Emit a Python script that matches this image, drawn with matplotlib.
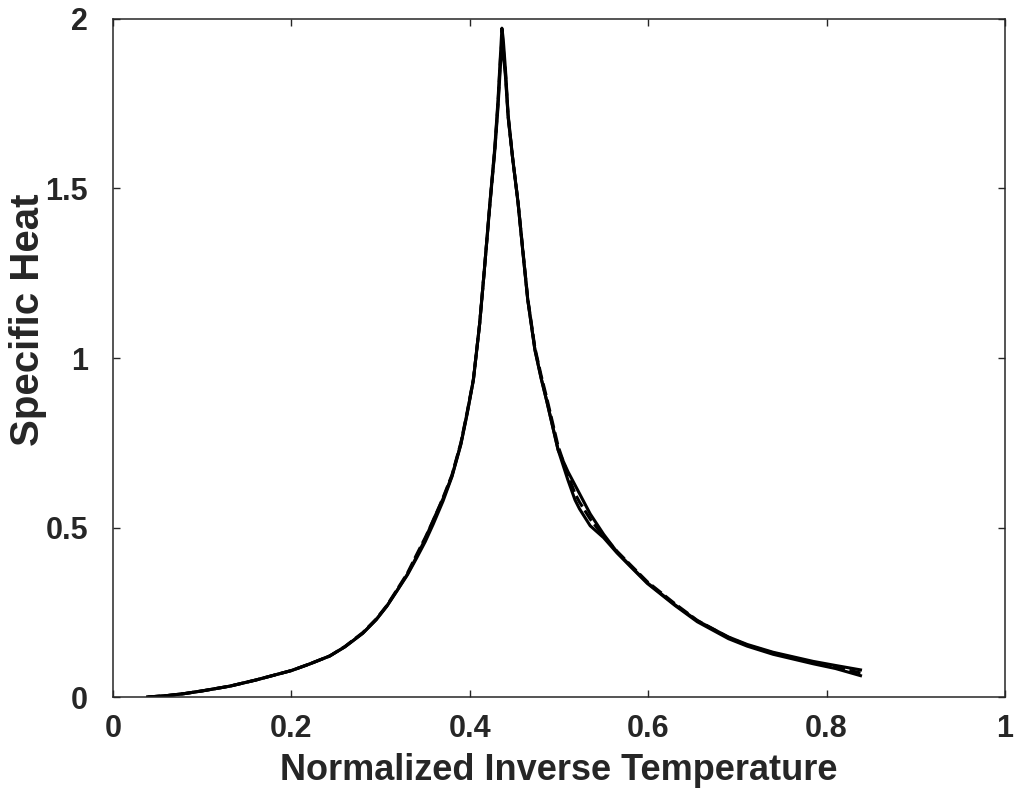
import matplotlib
matplotlib.use("Agg")
import matplotlib.pyplot as plt

# Inverse temperature values, shared by all curves
x_vals = [0.039, 0.060, 0.080, 0.100, 0.131, 0.160, 0.200, 0.220, 0.243, 0.260,
          0.280, 0.295, 0.307, 0.318, 0.330, 0.340, 0.350, 0.359, 0.370, 0.380,
          0.390, 0.397, 0.404, 0.411, 0.416, 0.4226, 0.428, 0.4316, 0.4345, 0.436,
          0.4375, 0.440, 0.443, 0.448, 0.454, 0.460, 0.465, 0.473, 0.480, 0.486,
          0.499, 0.510, 0.518, 0.523, 0.535, 0.550, 0.565, 0.580, 0.599, 0.630,
          0.655, 0.690, 0.711, 0.740, 0.785, 0.810, 0.838]

# Specific heat, solid curve 1
y_a = [0.000, 0.004, 0.010, 0.018, 0.032, 0.050, 0.078, 0.097, 0.121, 0.148,
       0.188, 0.228, 0.268, 0.312, 0.360, 0.408, 0.458, 0.510, 0.578, 0.650,
       0.745, 0.835, 0.935, 1.100, 1.250, 1.460, 1.620, 1.760, 1.900, 1.973,
       1.940, 1.850, 1.717, 1.590, 1.460, 1.300, 1.171, 1.024, 0.940, 0.876,
       0.729, 0.640, 0.581, 0.555, 0.505, 0.470, 0.425, 0.385, 0.335, 0.270,
       0.222, 0.172, 0.150, 0.126, 0.098, 0.084, 0.063]

# Specific heat, solid curve 2 (lower peak, bump near 0.52-0.54)
y_b = [0.000, 0.004, 0.010, 0.018, 0.032, 0.050, 0.078, 0.097, 0.121, 0.148,
       0.188, 0.228, 0.268, 0.312, 0.362, 0.412, 0.466, 0.522, 0.585, 0.652,
       0.747, 0.837, 0.935, 1.100, 1.250, 1.455, 1.610, 1.740, 1.870, 1.917,
       1.900, 1.830, 1.710, 1.590, 1.460, 1.300, 1.171, 1.024, 0.940, 0.876,
       0.729, 0.665, 0.625, 0.600, 0.540, 0.480, 0.428, 0.387, 0.337, 0.272,
       0.225, 0.177, 0.155, 0.132, 0.105, 0.093, 0.080]

# Specific heat, dashed curve
y_c = [0.000, 0.004, 0.010, 0.018, 0.032, 0.050, 0.078, 0.097, 0.121, 0.149,
       0.190, 0.230, 0.270, 0.315, 0.365, 0.418, 0.470, 0.520, 0.588, 0.655,
       0.750, 0.840, 0.937, 1.100, 1.250, 1.455, 1.615, 1.750, 1.890, 1.935,
       1.915, 1.840, 1.712, 1.590, 1.462, 1.305, 1.175, 1.030, 0.948, 0.885,
       0.740, 0.655, 0.600, 0.575, 0.525, 0.474, 0.430, 0.390, 0.340, 0.275,
       0.226, 0.176, 0.153, 0.130, 0.102, 0.088, 0.071]

x_ticks = [0, 0.2, 0.4, 0.6, 0.8, 1]
x_ticklabels = ["0", "0.2", "0.4", "0.6", "0.8", "1"]
y_ticks = [0, 0.5, 1, 1.5, 2]
y_ticklabels = ["0", "0.5", "1", "1.5", "2"]

plt.rcParams['font.family'] = ['Liberation Sans', 'DejaVu Sans']

fig = plt.figure(figsize=(10.23, 8.05), dpi=100)
ax = fig.add_axes([113/1023, (805-697)/805, (1005-113)/1023, (697-19)/805])

ax.plot(x_vals, y_a, color='black', lw=2.2, ls='-', solid_joinstyle='round')
ax.plot(x_vals, y_b, color='black', lw=2.2, ls='-', solid_joinstyle='round')
ax.plot(x_vals, y_c, color='black', lw=2.2, ls=(0, (4, 1.5)))

ax.set_xlim(0, 1)
ax.set_ylim(0, 2)
ax.set_xticks(x_ticks)
ax.set_xticklabels(x_ticklabels)
ax.set_yticks(y_ticks)
ax.set_yticklabels(y_ticklabels)

for sp in ax.spines.values():
    sp.set_color('#262626')
    sp.set_linewidth(1.1)

ax.tick_params(direction='in', length=5, width=1.0, color='#262626',
               top=True, right=True, labelsize=22, labelcolor='#262626')
ax.tick_params(axis='x', pad=12)
ax.tick_params(axis='y', pad=18)
for lbl in ax.get_xticklabels() + ax.get_yticklabels():
    lbl.set_fontweight('bold')

ax.set_xlabel('Normalized Inverse Temperature', fontsize=26, fontweight='bold',
              color='#262626')
ax.xaxis.set_label_coords(0.5, -0.108)
ax.xaxis.label.set_verticalalignment('center')

ax.set_ylabel('Specific Heat', fontsize=29, fontweight='bold', color='#262626')
ax.yaxis.set_label_coords((28 - 113) / 892, 0.557)
ax.yaxis.label.set_verticalalignment('center')

fig.savefig('out.png', dpi=100)
